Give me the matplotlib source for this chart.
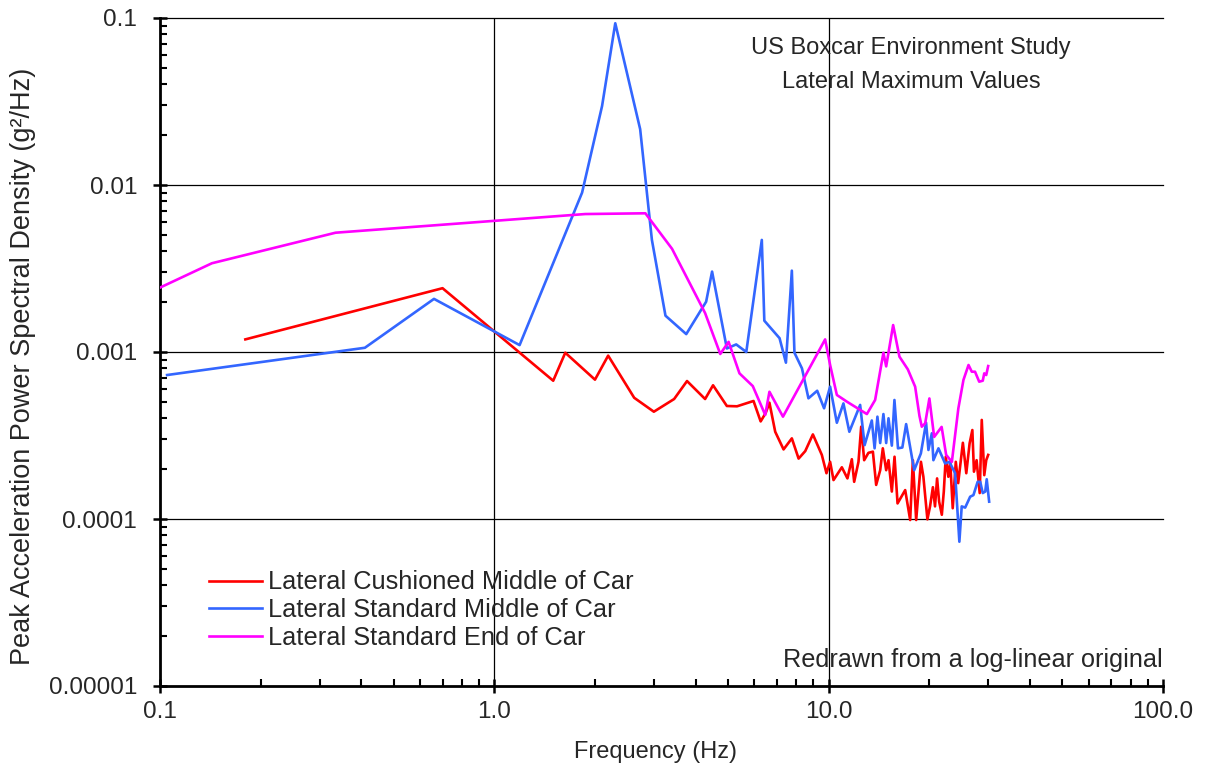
import matplotlib
matplotlib.use("Agg")
import matplotlib.pyplot as plt
from matplotlib.ticker import LogLocator, NullFormatter, FixedLocator, FixedFormatter

plt.rcParams["font.family"] = ["Liberation Sans", "DejaVu Sans"]
TEXT = "#262626"

# Lateral Cushioned Middle of Car
red_f = [0.18, 0.70, 1.50, 1.63, 2.00, 2.19, 2.62, 3.00, 3.45, 3.77, 4.27, 4.51, 4.96, 5.32,
         5.96, 6.26, 6.48, 6.65, 6.92, 7.33, 7.76, 8.13, 8.51, 8.97, 9.54, 9.85, 10.1, 10.34,
         10.95, 11.38, 11.73, 11.92, 12.28, 12.51, 12.77, 13.15, 13.56, 13.87, 14.26, 14.52,
         14.86, 15.1, 15.45, 15.74, 16.07, 16.94, 17.53, 17.86, 18.27, 18.88, 19.2, 19.74,
         20.1, 20.5, 20.8, 21.1, 21.4, 21.8, 22.1, 22.4, 22.8, 23.1, 23.5, 24.0, 24.4, 25.2,
         25.8, 26.4, 26.9, 27.2, 27.7, 28.3, 28.7, 29.2, 29.6, 30.0]
red_psd = [0.00119, 0.00241, 0.000673, 0.00099, 0.000683, 0.000951, 0.000532, 0.000439,
           0.000523, 0.00067, 0.000523, 0.000632, 0.000475, 0.000473, 0.000509, 0.000384,
           0.000431, 0.000497, 0.000333, 0.000261, 0.000304, 0.00023, 0.000255, 0.000321,
           0.000242, 0.000188, 0.00022, 0.000171, 0.000204, 0.000175, 0.000228, 0.000167,
           0.00022, 0.000357, 0.000225, 0.000249, 0.000253, 0.00016, 0.000196, 0.000265,
           0.000196, 0.000225, 0.000146, 0.000236, 0.000124, 0.000149, 0.0000986, 0.000225,
           0.0000986, 0.00022, 0.000179, 0.0000995, 0.000119, 0.000155, 0.000119, 0.000175,
           0.000127, 0.000106, 0.000146, 0.000236, 0.000179, 0.00022, 0.000116, 0.00022,
           0.000164, 0.000286, 0.000188, 0.000284, 0.000341, 0.000192, 0.000225, 0.000143,
           0.000392, 0.000183, 0.000225, 0.000242]

# Lateral Standard Middle of Car
blue_f = [0.105, 0.41, 0.66, 1.19, 1.83, 2.10, 2.30, 2.73, 2.96, 3.25, 3.75, 4.30, 4.48, 4.96,
          5.29, 5.67, 6.31, 6.42, 7.13, 7.45, 7.76, 7.90, 8.32, 8.70, 9.24, 9.69, 10.1, 10.58,
          11.07, 11.53, 12.42, 12.81, 13.46, 13.72, 13.99, 14.26, 14.58, 14.86, 15.1, 15.45,
          15.73, 16.12, 16.61, 17.05, 18.02, 18.87, 19.56, 19.88, 20.35, 20.57, 21.3, 22.3,
          22.97, 23.89, 24.6, 25.0, 25.6, 26.5, 27.1, 27.9, 28.4, 28.9, 29.4, 29.7, 30.2]
blue_psd = [0.000728, 0.00106, 0.00208, 0.0011, 0.009, 0.0297, 0.093, 0.0216, 0.00469,
            0.00165, 0.00128, 0.002, 0.00303, 0.00105, 0.00111, 0.001, 0.00469, 0.00154,
            0.00121, 0.000863, 0.00307, 0.00099, 0.000798, 0.000528, 0.000586, 0.00046,
            0.00062, 0.000377, 0.000492, 0.000333, 0.000482, 0.000277, 0.000389, 0.000265,
            0.00041, 0.000285, 0.000425, 0.000285, 0.000401, 0.000275, 0.000516, 0.000265,
            0.000268, 0.00037, 0.000196, 0.000247, 0.000377, 0.000259, 0.000326, 0.000225,
            0.000265, 0.000215, 0.00022, 0.000188, 0.0000731, 0.000119, 0.000117, 0.000136,
            0.000139, 0.000167, 0.000167, 0.000143, 0.000146, 0.000173, 0.000127]

# Lateral Standard End of Car
mag_f = [0.10, 0.143, 0.335, 1.87, 2.83, 3.40, 4.27, 4.74, 5.02, 5.41, 5.93, 6.46, 6.65, 7.30,
         9.76, 10.1, 10.58, 11.34, 13.01, 13.77, 14.58, 14.86, 15.59, 16.28, 17.25, 18.14,
         18.69, 18.99, 19.44, 20.01, 20.68, 21.77, 22.46, 23.36, 24.43, 25.3, 26.2, 26.8,
         27.4, 28.2, 28.9, 29.2, 29.6, 30.0]
mag_psd = [0.00243, 0.0034, 0.00518, 0.0067, 0.00677, 0.00415, 0.00171, 0.000973, 0.00115,
           0.000745, 0.000625, 0.00042, 0.000578, 0.00041, 0.00119, 0.000836, 0.000553,
           0.000504, 0.000425, 0.000516, 0.00099, 0.00082, 0.00145, 0.000938, 0.000787,
           0.00062, 0.000414, 0.000357, 0.000374, 0.000527, 0.00031, 0.000356, 0.000242,
           0.00022, 0.00046, 0.00068, 0.000836, 0.000762, 0.000762, 0.000664, 0.000673,
           0.000745, 0.000728, 0.000824]

x_ticks = [0.1, 1.0, 10.0, 100.0]
x_labels = ["0.1", "1.0", "10.0", "100.0"]
y_ticks = [0.00001, 0.0001, 0.001, 0.01, 0.1]
y_labels = ["0.00001", "0.0001", "0.001", "0.01", "0.1"]

fig = plt.figure(figsize=(12.05, 7.75), dpi=100)
ax = fig.add_axes([160 / 1205, 89 / 775, 1003 / 1205, 668 / 775])
ax.set_xscale("log")
ax.set_yscale("log")
ax.set_xlim(0.1, 100)
ax.set_ylim(0.00001, 0.1)

# decade grid, no line on the far right edge
for x in x_ticks[1:3]:
    ax.axvline(x, color="black", lw=0.9, zorder=1)
for y in y_ticks[1:]:
    ax.axhline(y, color="black", lw=0.9, zorder=1, clip_on=False)

ax.plot(red_f, red_psd, color="#ff0000", lw=1.9, label="Lateral Cushioned Middle of Car", zorder=3)
ax.plot(blue_f, blue_psd, color="#3366ff", lw=1.9, label="Lateral Standard Middle of Car", zorder=3)
ax.plot(mag_f, mag_psd, color="#ff00ff", lw=1.9, label="Lateral Standard End of Car", zorder=3)

for s in ["top", "right"]:
    ax.spines[s].set_visible(False)
for s in ["left", "bottom"]:
    ax.spines[s].set_linewidth(2.0)

ax.xaxis.set_major_locator(FixedLocator(x_ticks))
ax.xaxis.set_major_formatter(FixedFormatter(x_labels))
ax.yaxis.set_major_locator(FixedLocator(y_ticks))
ax.yaxis.set_major_formatter(FixedFormatter(y_labels))
ax.xaxis.set_minor_locator(LogLocator(base=10, subs=range(2, 10)))
ax.yaxis.set_minor_locator(LogLocator(base=10, subs=range(2, 10)))
ax.xaxis.set_minor_formatter(NullFormatter())
ax.yaxis.set_minor_formatter(NullFormatter())
ax.tick_params(which="major", direction="inout", length=10, width=1.8, labelsize=17.5,
               labelcolor=TEXT)
ax.tick_params(axis="y", which="major", pad=11.5)
ax.tick_params(axis="x", which="major", pad=6)
ax.tick_params(which="minor", direction="in", length=5, width=1.5)

ax.set_xlabel("Frequency (Hz)", fontsize=17, color=TEXT)
ax.set_ylabel("Peak Acceleration Power Spectral Density (g²/Hz)", fontsize=19.5, color=TEXT)
ax.xaxis.set_label_coords(0.494, -0.083)
ax.yaxis.set_label_coords(-0.124, 0.478)

ax.text(0.7488, 0.955, "US Boxcar Environment Study", transform=ax.transAxes,
        ha="center", va="center", fontsize=17, color=TEXT)
ax.text(0.7488, 0.904, "Lateral Maximum Values", transform=ax.transAxes,
        ha="center", va="center", fontsize=17, color=TEXT)
ax.text(1.0, 0.039, "Redrawn from a log-linear original", transform=ax.transAxes,
        ha="right", va="center", fontsize=18.2, color=TEXT)

leg = ax.legend(loc="upper left", bbox_to_anchor=(0.0489, 0.173), frameon=False,
                borderaxespad=0, borderpad=0, handlelength=2.09, handletextpad=0.24,
                labelspacing=0.14, fontsize=18.3)
for t in leg.get_texts():
    t.set_color(TEXT)

fig.savefig("out.png", dpi=100)
